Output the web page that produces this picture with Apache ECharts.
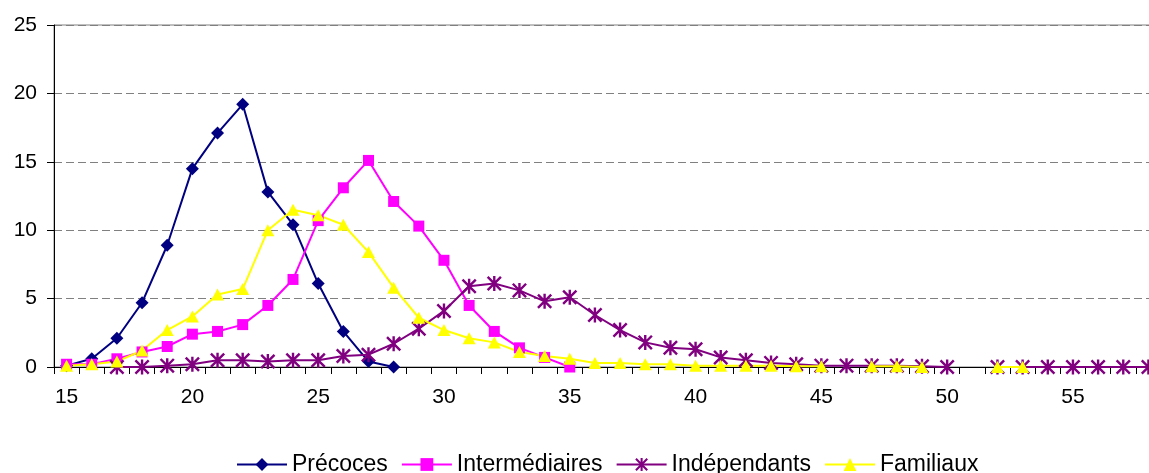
<!DOCTYPE html>
<html>
<head>
<meta charset="utf-8">
<script src="https://cdn.jsdelivr.net/npm/echarts@6/dist/echarts.min.js"></script>
<style>
html,body{margin:0;padding:0;background:#fff;overflow:hidden;width:1149px;height:473px;}
#chart{width:1165px;height:473px;}
</style>
</head>
<body>
<div id="chart"></div>
<script>
var categories = ['15','16','17','18','19','20','21','22','23','24','25','26','27','28','29','30','31','32','33','34','35','36','37','38','39','40','41','42','43','44','45','46','47','48','49','50','51','52','53','54','55','56','57','58'];

var precoces = [0.1,0.6,2.1,4.7,8.9,14.5,17.1,19.2,12.8,10.4,6.1,2.6,0.4,0];

var intermediaires = [0.2,0.2,0.6,1.1,1.5,2.4,2.6,3.1,4.5,6.4,10.7,13.1,15.1,12.1,10.3,7.8,4.5,2.6,1.4,0.7,0];

var independants = [null,null,0,0,0.1,0.2,0.5,0.5,0.4,0.5,0.5,0.8,0.9,1.7,2.8,4.1,5.9,6.1,5.6,4.8,5.1,3.8,2.7,1.8,1.4,1.3,0.7,0.5,0.3,0.2,0.1,0.1,0.1,0.1,0.05,0,null,0,0,0,0,0,0,0];

var familiaux = [0.1,0.2,0.4,1.2,2.7,3.7,5.3,5.7,10.0,11.5,11.1,10.4,8.4,5.8,3.6,2.7,2.1,1.8,1.1,0.8,0.6,0.3,0.3,0.2,0.2,0.1,0.1,0.1,0.1,0.05,0.05,null,0.05,0.05,0,null,null,0,0];

var yTicks = [0,5,10,15,20,25];

var asterisk = 'path://M8.4 0 L11.6 0 L11.6 20 L8.4 20 Z M0 2.3 L2.3 0 L20 17.7 L17.7 20 Z M17.7 0 L20 2.3 L2.3 20 L0 17.7 Z';

var FONT = '"Liberation Sans", Arial, sans-serif';

function mk(name, data, color, symbol, size) {
  return {
    name: name,
    type: 'line',
    data: data,
    connectNulls: false,
    symbol: symbol,
    symbolSize: size,
    showSymbol: true,
    animation: false,
    lineStyle: { color: color, width: 2 },
    itemStyle: { color: color, borderWidth: 0 },
    z: 2
  };
}

var chart = echarts.init(document.getElementById('chart'), null, {renderer: 'canvas'});
chart.setOption({
  animation: false,
  backgroundColor: '#ffffff',
  textStyle: { fontFamily: FONT },
  grid: {
    left: 54, right: 4, top: 25, bottom: 106,
    show: true, borderColor: '#808080', borderWidth: 1, backgroundColor: 'transparent'
  },
  legend: {
    left: 231, top: 448,
    itemWidth: 50, itemHeight: 16, itemGap: 13,
    textStyle: { fontFamily: FONT, fontSize: 23, color: '#000' },
    data: ['Précoces','Intermédiaires','Indépendants','Familiaux']
  },
  xAxis: {
    type: 'category',
    data: categories,
    boundaryGap: true,
    axisLine: { show: true, lineStyle: { color: '#000', width: 1 } },
    axisTick: { show: true, interval: 0, length: 7, lineStyle: { color: '#000' } },
    axisLabel: {
      interval: function (idx) { return idx % 5 === 0; },
      fontFamily: FONT, fontSize: 21, color: '#000', margin: 20
    },
    splitLine: { show: false }
  },
  yAxis: {
    type: 'value',
    min: yTicks[0], max: yTicks[yTicks.length - 1], interval: 5,
    axisLine: { show: true, lineStyle: { color: '#000', width: 1 } },
    axisTick: { show: true, length: 7, lineStyle: { color: '#000' } },
    axisLabel: { fontFamily: FONT, fontSize: 21, color: '#000', margin: 17 },
    splitLine: { show: true, lineStyle: { color: '#808080', type: [8, 4], width: 1 } }
  },
  series: [
    mk('Précoces', precoces, '#000080', 'diamond', 13),
    mk('Intermédiaires', intermediaires, '#FF00FF', 'rect', 11),
    mk('Indépendants', independants, '#800080', asterisk, 15),
    mk('Familiaux', familiaux, '#FFFF00', 'triangle', [13, 12])
  ]
});
</script>
</body>
</html>
